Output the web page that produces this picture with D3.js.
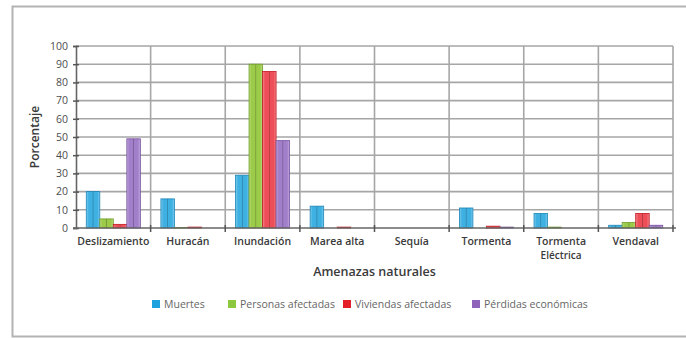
<!DOCTYPE html>
<html>
<head>
<meta charset="utf-8">
<script src="https://cdn.jsdelivr.net/npm/d3@7"></script>
<style>
  html, body { margin: 0; padding: 0; background: #fff; }
  svg { display: block; font-family: "Open Sans", "Noto Sans", sans-serif; }
</style>
</head>
<body>
<svg id="chart" width="686" height="338"></svg>
<script>
// Natural hazards: share of each impact type by hazard (%)
const categories = ["Deslizamiento", "Huracán", "Inundación", "Marea alta", "Sequía", "Tormenta", "Tormenta\nEléctrica", "Vendaval"];
const seriesNames = ["Muertes", "Personas afectadas", "Viviendas afectadas", "Pérdidas económicas"];
const muertes    = [20, 16, 29, 12, 0, 11, 8, 1.5];
const personas   = [5, 0.3, 90, 0, 0, 0, 0.5, 3];
const viviendas  = [2, 0.5, 86, 0.5, 0, 1, 0, 8];
const perdidas   = [49, 0, 48, 0, 0, 0.5, 0, 1.5];
const yTicks = [0, 10, 20, 30, 40, 50, 60, 70, 80, 90, 100];

const seriesValues = [muertes, personas, viviendas, perdidas];
const fills   = ["#3fb0e2", "#9bcb48", "#ee4e57", "#a27fca"];
const edges   = ["#1a86b8", "#6e9d26", "#c01820", "#7650a0"];
const swatch  = ["#1ea2dd", "#8dc63f", "#e31e27", "#9063bb"];

const svg = d3.select("#chart");
const plot = { left: 76, right: 673, top: 46, bottom: 228 };

// outer frame
svg.append("rect")
  .attr("x", 12.5).attr("y", 6.5).attr("width", 700).attr("height", 330)
  .attr("fill", "none").attr("stroke", "#b3b3b3").attr("stroke-width", 2);

const x0 = d3.scaleBand().domain(categories).range([plot.left, plot.right]).paddingInner(0).paddingOuter(0);
const x1 = d3.scaleBand().domain(seriesNames).range([0, x0.bandwidth()]).paddingInner(0).paddingOuter(0.76);
const y = d3.scaleLinear().domain([0, 100]).range([plot.bottom, plot.top]);

// bar gradients (bevelled look)
const defs = svg.append("defs");
fills.forEach((c, i) => {
  const g = defs.append("linearGradient").attr("id", "g" + i)
    .attr("x1", "0").attr("x2", "1").attr("y1", "0").attr("y2", "0");
  const light = d3.interpolateRgb(c, "#ffffff")(0.35);
  const dark = d3.interpolateRgb(c, "#000000")(0.25);
  [[0, light], [0.18, c], [0.44, c], [0.5, dark], [0.56, c], [0.82, c], [1, light]]
    .forEach(([o, col]) => g.append("stop").attr("offset", o).attr("stop-color", col));
});

// horizontal gridlines
svg.append("g").selectAll("line").data(yTicks.filter(d => d > 0)).join("line")
  .attr("x1", plot.left).attr("x2", plot.right)
  .attr("y1", d => y(d)).attr("y2", d => y(d))
  .attr("stroke", "#a6a6a6").attr("stroke-width", 1.6);

// category separators and right border
const bounds = categories.slice(1).map(c => x0(c)).concat([plot.right]);
svg.append("g").selectAll("line").data(bounds).join("line")
  .attr("x1", d => d).attr("x2", d => d)
  .attr("y1", plot.top).attr("y2", plot.bottom)
  .attr("stroke", "#a6a6a6").attr("stroke-width", 1.6);

// bars
const groups = svg.append("g").selectAll("g").data(categories).join("g")
  .attr("transform", c => `translate(${x0(c)},0)`);
groups.selectAll("rect")
  .data((c, ci) => seriesNames.map((s, si) => ({ s, si, v: seriesValues[si][ci] })))
  .join("rect")
  .filter(d => d.v > 0)
  .attr("x", d => x1(d.s))
  .attr("width", x1.bandwidth())
  .attr("y", d => y(d.v))
  .attr("height", d => y(0) - y(d.v))
  .attr("fill", d => `url(#g${d.si})`)
  .attr("stroke", d => edges[d.si]).attr("stroke-width", 0.8);

// y axis
const yAxis = svg.append("g").attr("transform", `translate(${plot.left},0)`)
  .call(d3.axisLeft(y).tickValues(yTicks).tickSize(3).tickPadding(5));
yAxis.select(".domain").attr("stroke", "#666").attr("stroke-width", 1.6);
yAxis.selectAll(".tick line").attr("x1", 3).attr("x2", -3).attr("stroke", "#555").attr("stroke-width", 1.5);
yAxis.selectAll(".tick text").attr("fill", "#4d4d4d").attr("font-size", 10.5)
  .attr("font-family", "\"Open Sans\", sans-serif");

// x axis baseline with boundary ticks
svg.append("line").attr("x1", plot.left - 3).attr("x2", plot.right + 3)
  .attr("y1", plot.bottom).attr("y2", plot.bottom)
  .attr("stroke", "#666").attr("stroke-width", 1.6);
svg.append("g").selectAll("line").data(bounds).join("line")
  .attr("x1", d => d).attr("x2", d => d)
  .attr("y1", plot.bottom - 3).attr("y2", plot.bottom + 4)
  .attr("stroke", "#555").attr("stroke-width", 1.5);

// category labels (one text per line)
const labelLines = categories.flatMap(c => c.split("\n").map((line, i) => ({ c, line, i })));
svg.append("g").selectAll("text").data(labelLines).join("text")
  .attr("x", d => x0(d.c) + x0.bandwidth() / 2)
  .attr("y", d => plot.bottom + 16.5 + d.i * 14)
  .attr("text-anchor", "middle")
  .attr("font-size", d => d.i > 0 ? 10 : 10.5).attr("font-weight", 600).attr("fill", "#3a3a3a")
  .text(d => d.line);

// axis titles
svg.append("text").attr("x", (plot.left + plot.right) / 2).attr("y", 276)
  .attr("text-anchor", "middle").attr("font-size", 12.5).attr("font-weight", 600).attr("fill", "#3a3a3a")
  .text("Amenazas naturales");
svg.append("text").attr("transform", `translate(39,${(plot.top + plot.bottom) / 2}) rotate(-90)`)
  .attr("text-anchor", "middle").attr("font-size", 12).attr("font-weight", 600).attr("fill", "#3a3a3a")
  .text("Porcentaje");

// legend
const legendX = [152, 228, 343, 472];
const legend = svg.append("g").selectAll("g").data(seriesNames).join("g")
  .attr("transform", (d, i) => `translate(${legendX[i]},300)`);
legend.append("rect").attr("width", 8).attr("height", 8).attr("fill", (d, i) => swatch[i]);
legend.append("text").attr("x", 12).attr("y", 8).attr("font-size", 10.5).attr("font-weight", 400)
  .attr("fill", "#666").text(d => d);
</script>
</body>
</html>
